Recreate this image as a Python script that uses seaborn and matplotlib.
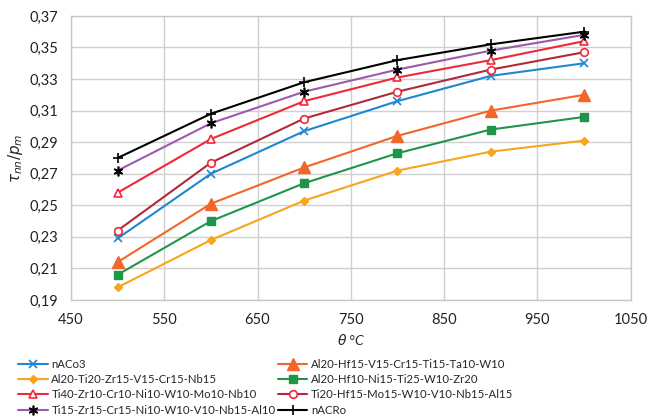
import matplotlib
matplotlib.use("Agg")
import matplotlib.pyplot as plt
from matplotlib.ticker import FuncFormatter, FixedLocator
import seaborn as sns
import pandas as pd

temps = [500, 600, 700, 800, 900, 1000]
x_ticks = [450, 550, 650, 750, 850, 950, 1050]
y_ticks = [0.19, 0.21, 0.23, 0.25, 0.27, 0.29, 0.31, 0.33, 0.35, 0.37]
names = [
    "nACo3",
    "Al20-Ti20-Zr15-V15-Cr15-Nb15",
    "Ti40-Zr10-Cr10-Ni10-W10-Mo10-Nb10",
    "Ti15-Zr15-Cr15-Ni10-W10-V10-Nb15-Al10",
    "Al20-Hf15-V15-Cr15-Ti15-Ta10-W10",
    "Al20-Hf10-Ni15-Ti25-W10-Zr20",
    "Ti20-Hf15-Mo15-W10-V10-Nb15-Al15",
    "nACRo",
]
nACo3 = [0.229, 0.270, 0.297, 0.316, 0.332, 0.340]
al20_ti20 = [0.198, 0.228, 0.253, 0.272, 0.284, 0.291]
ti40 = [0.258, 0.292, 0.316, 0.331, 0.342, 0.354]
ti15 = [0.272, 0.302, 0.322, 0.336, 0.348, 0.358]
al20_hf15 = [0.214, 0.251, 0.274, 0.294, 0.310, 0.320]
al20_hf10 = [0.206, 0.240, 0.264, 0.283, 0.298, 0.306]
ti20_hf15 = [0.234, 0.277, 0.305, 0.322, 0.336, 0.347]
nACRo = [0.280, 0.308, 0.328, 0.342, 0.352, 0.360]
series = [nACo3, al20_ti20, ti40, ti15, al20_hf15, al20_hf10, ti20_hf15, nACRo]

styles = [
    dict(color="#1F86D0", marker="x", markersize=5.5, mec="#1F86D0", mfc="#1F86D0", mew=1.2),
    dict(color="#F7A51C", marker="D", markersize=4, mec="#F7A51C", mfc="#F7A51C", mew=1),
    dict(color="#F0283A", marker="^", markersize=5.5, mec="#F0283A", mfc="white", mew=1.2),
    dict(color="#9B5AAE", marker=(6, 2, 0), markersize=7, mec="black", mfc="black", mew=1.2),
    dict(color="#F2662A", marker="^", markersize=8, mec="#F2662A", mfc="#F2662A", mew=1),
    dict(color="#1E9648", marker="s", markersize=5.5, mec="#1E9648", mfc="#1E9648", mew=1),
    dict(color="#B02A3A", marker="o", markersize=5.5, mec="#F0283A", mfc="white", mew=1.2),
    dict(color="black", marker="+", markersize=7, mec="black", mfc="black", mew=1.2),
]

sns.set_style("white")
plt.rcParams["font.family"] = ["Lato", "DejaVu Sans"]

fig = plt.figure(figsize=(6.57, 4.19), dpi=100)
ax = fig.add_axes([0.108, 0.284, 0.852, 0.678])

for name, vals, st in zip(names, series, styles):
    df = pd.DataFrame({"T": temps, "v": vals})
    sns.lineplot(data=df, x="T", y="v", ax=ax, label=name, color=st["color"],
                 marker=st["marker"], markersize=st["markersize"],
                 markeredgecolor=st["mec"], markerfacecolor=st["mfc"],
                 markeredgewidth=st["mew"], linewidth=1.5, legend=False)

ax.set_xlim(450, 1050)
ax.set_ylim(0.19, 0.37)
ax.xaxis.set_major_locator(FixedLocator(x_ticks))
ax.yaxis.set_major_locator(FixedLocator(y_ticks))
ax.yaxis.set_major_formatter(FuncFormatter(lambda v, p: f"{v:.2f}".replace(".", ",")))
ax.xaxis.set_major_formatter(FuncFormatter(lambda v, p: f"{v:.0f}"))
ax.grid(True, color="#D0D0D0", linewidth=1)
for s in ax.spines.values():
    s.set_color("#C8C8C8")
    s.set_linewidth(1)
ax.tick_params(length=0, labelsize=10.5, pad=9, colors="#222222")
ax.set_xlabel(r"$\theta$ °C", fontsize=10, style="italic", labelpad=4)
ax.set_ylabel(r"$\tau_{nn}/p_m$", fontsize=11, labelpad=3)

handles, labels = ax.get_legend_handles_labels()
fig.legend(handles, labels, loc="upper left", bbox_to_anchor=(0.028, 0.144),
           ncol=2, frameon=False, fontsize=8.2, handlelength=2.6,
           handletextpad=0.3, labelspacing=0.38, columnspacing=0.2,
           borderaxespad=0, borderpad=0)

fig.savefig("out.png", dpi=100)
